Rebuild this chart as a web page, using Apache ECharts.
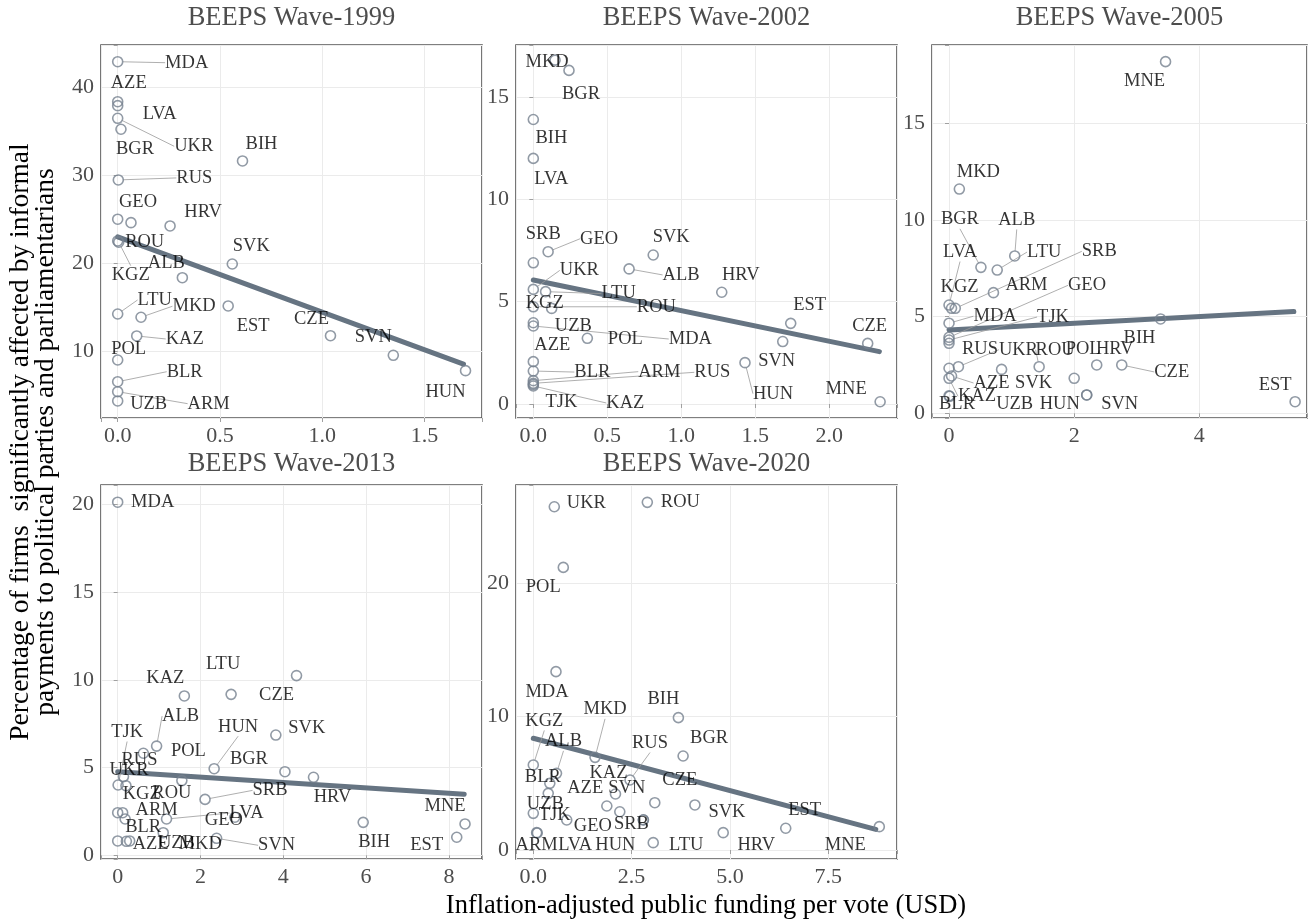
<!DOCTYPE html>
<html><head><meta charset="utf-8">
<script src="https://cdn.jsdelivr.net/npm/echarts@6/dist/echarts.min.js"></script>
<style>html,body{margin:0;padding:0;background:#fff}#c{width:1313px;height:922px}</style>
</head><body><div id="c"></div>
<script>
// ---------------- DATA ----------------
const waves = ['BEEPS Wave-1999','BEEPS Wave-2002','BEEPS Wave-2005','BEEPS Wave-2013','BEEPS Wave-2020'];

const countries1999 = ['MDA','AZE','LVA','UKR','BGR','BIH','RUS','','GEO','HRV','ROU','KGZ','SVK','ALB','LTU','MKD','EST','CZE','KAZ','SVN','POL','HUN','BLR','ARM','UZB'];
const funding1999  = [0,0,0,0,0.016,0.61,0.003,0,0.065,0.256,0,0.005,0.56,0.316,0,0.114,0.54,1.04,0.093,1.347,0,1.70,0,0,0];
const firms1999    = [42.84,38.31,37.86,36.43,35.19,31.6,29.45,25.0,24.61,24.24,22.54,22.4,19.93,18.38,14.27,13.9,15.18,11.81,11.78,9.59,9.06,7.85,6.6,5.47,4.42];
const fitX1999 = [0, 1.69];
const fitY1999 = [23.0, 8.6];

const countries2002 = ['MKD','BGR','BIH','LVA','SRB','GEO','SVK','UKR','ALB','HRV','LTU','KGZ','ROU','EST','CZE','UZB','MDA','POL','AZE','SVN','HUN','BLR','ARM','RUS','TJK','KAZ','MNE'];
const funding2002  = [0.147,0.241,0,0,0,0.10,0.81,0,0.647,1.273,0.083,0.124,0,1.739,2.259,0,0,0.365,0,1.685,1.43,0,0,0,0,0,2.343];
const firms2002    = [16.8,16.3,13.9,12.0,6.9,7.44,7.28,5.6,6.6,5.46,5.49,4.67,4.75,3.94,2.96,3.97,3.81,3.21,2.07,3.05,2.02,1.61,1.14,1.01,0.95,0.88,0.11];
const fitX2002 = [0, 2.338];
const fitY2002 = [6.06, 2.56];

const countries2005 = ['MNE','MKD','BGR','LTU','ALB','ARM','LVA','KGZ','SRB','MDA','GEO','TJK','RUS','UKR','','SVK','ROU','HRV','CZE','POL','BIH','AZE','KAZ','BLR','UZB','HUN','SVN','EST'];
const funding2005  = [3.46,0.165,0.51,0.77,1.05,0.71,0,0.04,0.1,0,0,0,0,0.15,0,0.84,1.44,2.36,2.76,2.0,3.38,0.04,0,0,0.01,2.2,2.2,5.53];
const firms2005    = [18.19,11.6,7.55,7.41,8.14,6.24,5.6,5.43,5.43,4.66,3.93,3.79,3.62,2.41,2.33,2.27,2.41,2.5,2.5,1.81,4.88,1.93,1.81,0.9,0.88,0.95,0.95,0.6];
const fitX2005 = [0, 5.51];
const fitY2005 = [4.31, 5.26];

const countries2013 = ['MDA','CZE','LTU','KAZ','SVK','ALB','POL','HUN','BGR','HRV','ROU','RUS','TJK','UKR','SRB','KGZ','ARM','BLR','LVA','GEO','MKD','AZE','UZB','','SVN','BIH','MNE','EST'];
const funding2013  = [0,4.32,2.74,1.61,3.82,0.94,0.62,2.33,4.04,4.73,1.55,0.14,0.01,0.2,2.11,0,0.12,0.18,1.18,2.83,1.10,0,0.21,0.29,2.39,5.93,8.39,8.19];
const firms2013    = [20.14,10.25,9.18,9.09,6.86,6.23,5.82,4.94,4.77,4.45,4.26,4.49,4.01,3.97,3.19,2.43,2.43,2.07,2.07,2.17,1.29,0.82,0.8,0.82,0.97,1.88,1.79,1.03];
const fitX2013 = [0, 8.37];
const fitY2013 = [4.77, 3.48];

const countries2020 = ['UKR','ROU','POL','MDA','BIH','BGR','MKD','KGZ','ALB','BLR','RUS','KAZ','AZE','SVN','CZE','SVK','UZB','TJK','GEO','SRB','HUN','ARM','LVA','LTU','HRV','EST','MNE'];
const funding2020  = [0.534,2.9,0.763,0.577,3.69,3.81,1.57,0,0.59,0.42,2.46,2.09,0.38,1.87,3.09,4.11,0,0.85,2.2,2.8,2.8,0.085,0.1,3.05,4.83,6.42,8.8];
const firms2020    = [25.75,26.08,21.2,13.38,9.93,7.05,6.95,6.38,5.75,5.0,5.25,4.2,4.25,3.3,3.55,3.38,2.75,2.25,2.87,2.25,2.27,1.3,1.28,0.55,1.3,1.63,1.75];
const fitX2020 = [0, 8.71];
const fitY2020 = [8.38, 1.55];

// ---------------- LABEL PLACEMENT (pixel offsets, connector flag) ----------------
const off1999 = {MDA:[69,1,1],AZE:[11,-19,0],LVA:[42,8,0],UKR:[76,28,1],BGR:[14,20,0],BIH:[19,-17,0],RUS:[76,-2,1],GEO:[7,-21,0],HRV:[33,-14,0],ROU:[27,1,0],KGZ:[12,33,1],SVK:[19,-18,0],ALB:[-16,-15,0],LTU:[37,-14,1],MKD:[53,-11,1],EST:[25,20,0],CZE:[-19,-17,0],KAZ:[48,3,1],SVN:[-20,-18,0],POL:[11,-11,0],HUN:[-20,21,0],BLR:[67,-10,1],ARM:[91,12,1],UZB:[31,3,0]};
const off2002 = {MKD:[-8,2,0],BGR:[12,24,0],BIH:[18,19,0],LVA:[18,21,0],SRB:[10,-29,0],GEO:[51,-13,1],SVK:[18,-18,0],UKR:[46,-19,1],ALB:[52,6,1],HRV:[19,-17,0],LTU:[73,2,1],KGZ:[-7,-5,0],ROU:[123,0,1],EST:[19,-18,0],CZE:[2,-17,0],UZB:[40,3,0],MDA:[157,13,1],POL:[38,1,0],AZE:[19,-16,0],SVN:[-6,20,0],HUN:[28,31,1],BLR:[59,1,1],ARM:[126,-9,1],RUS:[179,-11,1],TJK:[28,18,0],KAZ:[92,17,1],MNE:[-34,-13,0]};
const off2005 = {MNE:[-21,20,0],MKD:[19,-17,0],BGR:[-21,-48,1],LTU:[47,-18,1],ALB:[2,-36,1],ARM:[33,-8,0],LVA:[11,-53,1],KGZ:[8,-21,0],SRB:[144,-57,1],MDA:[46,-7,1],GEO:[138,-52,1],TJK:[104,-23,1],RUS:[31,6,0],UKR:[60,-17,1],SVK:[32,14,0],ROU:[16,-17,1],HRV:[18,-16,0],CZE:[50,7,1],POL:[9,-29,0],BIH:[-21,19,0],AZE:[40,7,1],KAZ:[28,18,1],BLR:[8,8,0],UZB:[65,8,0],HUN:[-27,9,0],SVN:[33,9,0],EST:[-20,-17,0]};
const off2013 = {MDA:[35,0,0],CZE:[-20,20,0],LTU:[-8,-30,0],KAZ:[-19,-18,0],SVK:[31,-7,0],ALB:[24,-30,1],POL:[45,-2,0],HUN:[24,-42,1],BGR:[-36,-13,0],HRV:[19,20,0],ROU:[-10,13,0],RUS:[16,-16,0],TJK:[9,-53,1],UKR:[3,-16,0],SRB:[65,-9,1],KGZ:[24,-19,0],ARM:[34,-3,0],BLR:[18,8,0],LVA:[80,-6,1],GEO:[-11,3,0],MKD:[37,11,0],AZE:[33,3,0],UZB:[50,2,0],SVN:[60,7,1],BIH:[11,20,0],MNE:[-20,-18,0],EST:[-30,8,0]};
const off2020 = {UKR:[32,-4,0],ROU:[33,0,0],POL:[-20,20,0],MDA:[-9,21,0],BIH:[-15,-18,0],BGR:[26,-18,0],MKD:[10,-48,1],KGZ:[11,-44,1],ALB:[7,-32,1],BLR:[-7,-6,0],RUS:[20,-37,1],KAZ:[-7,-21,0],AZE:[37,-5,0],SVN:[20,-18,0],CZE:[25,-23,0],SVK:[32,7,0],UZB:[12,-9,0],TJK:[-12,-5,0],GEO:[-27,14,0],SRB:[-12,4,0],HUN:[-28,25,0],ARM:[0,12,0],LVA:[38,12,0],LTU:[33,2,0],HRV:[33,12,0],EST:[19,-18,0],MNE:[-34,18,0]};

// ---------------- LAYOUT ----------------
const FONT = '"Liberation Serif", "Times New Roman", serif';
const PT_COLOR = '#75818f';
const FIT_COLOR = '#667482';
const panels = [
  {names:countries1999, xs:funding1999, ys:firms1999, fx:fitX1999, fy:fitY1999, off:off1999,
   grid:{left:101, top:45, width:381, height:373}, xr:[-0.0816,1.7805], xi:0.5, xd:1, yr:[2.49,44.73], yi:10, title:[291.5,18]},
  {names:countries2002, xs:funding2002, ys:firms2002, fx:fitX2002, fy:fitY2002, off:off2002,
   grid:{left:516, top:45, width:381, height:373}, xr:[-0.117,2.457], xi:0.5, xd:1, yr:[-0.684,17.54], yi:5, title:[706.5,18]},
  {names:countries2005, xs:funding2005, ys:firms2005, fx:fitX2005, fy:fitY2005, off:off2005,
   grid:{left:932, top:45, width:375, height:373}, xr:[-0.272,5.72], xi:2, xd:0, yr:[-0.243,19.05], yi:5, title:[1119.5,18]},
  {names:countries2013, xs:funding2013, ys:firms2013, fx:fitX2013, fy:fitY2013, off:off2013,
   grid:{left:101, top:485, width:381, height:374}, xr:[-0.403,8.80], xi:2, xd:0, yr:[-0.21,21.12], yi:5, title:[291.5,464]},
  {names:countries2020, xs:funding2020, ys:firms2020, fx:fitX2020, fy:fitY2020, off:off2020,
   grid:{left:516, top:485, width:381, height:374}, xr:[-0.44,9.25], xi:2.5, xd:1, yr:[-0.675,27.38], yi:10, title:[706.5,464]}
];

function tickFmt(iv, dec){
  return function(v){
    const r = v/iv;
    if (Math.abs(r - Math.round(r)) > 1e-6) return '';
    return (Math.round(r)*iv).toFixed(dec);
  };
}

const grids=[], xAxes=[], yAxes=[], series=[], graphics=[];
panels.forEach((p,i)=>{
  grids.push(Object.assign({show:true, backgroundColor:'#fff', borderColor:'#555555', borderWidth:1.6}, p.grid));
  const common = {
    type:'value', gridIndex:i, axisLine:{show:false},
    axisTick:{show:true, length:4, lineStyle:{color:'#a0a0a0'}},
    splitLine:{show:true, lineStyle:{color:'#ebebeb', width:1}},
    splitArea:{show:false}
  };
  xAxes.push(Object.assign({}, common, {
    min:p.xr[0], max:p.xr[1], minInterval:p.xi, maxInterval:p.xi, splitNumber:5,
    axisLabel:{color:'#4d4d4d', fontSize:22, fontFamily:FONT, margin:7, formatter:tickFmt(p.xi,p.xd)}
  }));
  yAxes.push(Object.assign({}, common, {
    min:p.yr[0], max:p.yr[1], minInterval:p.yi, maxInterval:p.yi, splitNumber:5,
    axisLabel:{color:'#4d4d4d', fontSize:22, fontFamily:FONT, margin:7, formatter:tickFmt(p.yi,0)}
  }));
  // regression line
  series.push({
    type:'line', xAxisIndex:i, yAxisIndex:i, z:1, silent:true,
    data:p.fx.map((x,k)=>[x,p.fy[k]]), showSymbol:false, symbol:'none',
    lineStyle:{color:FIT_COLOR, width:5, cap:'round'}
  });
  // points with labels
  const names = p.names, off = p.off;
  series.push({
    type:'scatter', xAxisIndex:i, yAxisIndex:i, z:3, silent:true,
    symbol:'circle', symbolSize:10,
    itemStyle:{color:'rgba(0,0,0,0)', borderColor:PT_COLOR, borderWidth:1.6},
    data:names.map((n,k)=>({name:n, value:[p.xs[k], p.ys[k]],
      labelLine:{show: !!(off[n] && off[n][2])}})),
    label:{show:true, position:'inside', formatter:(q)=>q.name, color:'#000', fontSize:18.5, fontFamily:FONT},
    labelLine:{show:true, lineStyle:{color:'#9a9a9a', width:0.8}},
    labelLayout:function(q){
      const o = off[names[q.dataIndex]];
      return o ? {dx:o[0], dy:o[1]} : {};
    },
    emphasis:{disabled:true}
  });
  graphics.push({type:'text', x:p.title[0], y:p.title[1], silent:true,
    style:{text:waves[i], fill:'#4d4d4d', font:'26.5px ' + FONT, textAlign:'center', textVerticalAlign:'middle', verticalAlign:'middle'}});
});

graphics.push({type:'text', x:706, y:906, silent:true,
  style:{text:'Inflation-adjusted public funding per vote (USD)', fill:'#000', font:'26.5px ' + FONT, textAlign:'center', textVerticalAlign:'middle', verticalAlign:'middle'}});
graphics.push({type:'text', x:33, y:442, rotation:Math.PI/2, silent:true,
  style:{text:'Percentage of firms  significantly affected by informal\npayments to political parties and parliamentarians', fill:'#000', font:'27.5px ' + FONT, lineHeight:25, textAlign:'center', textVerticalAlign:'middle', verticalAlign:'middle'}});

const chart = echarts.init(document.getElementById('c'), null, {renderer:'canvas'});
chart.setOption({
  animation:false,
  backgroundColor:'#fff',
  grid:grids, xAxis:xAxes, yAxis:yAxes, series:series, graphic:graphics
});
</script></body></html>
